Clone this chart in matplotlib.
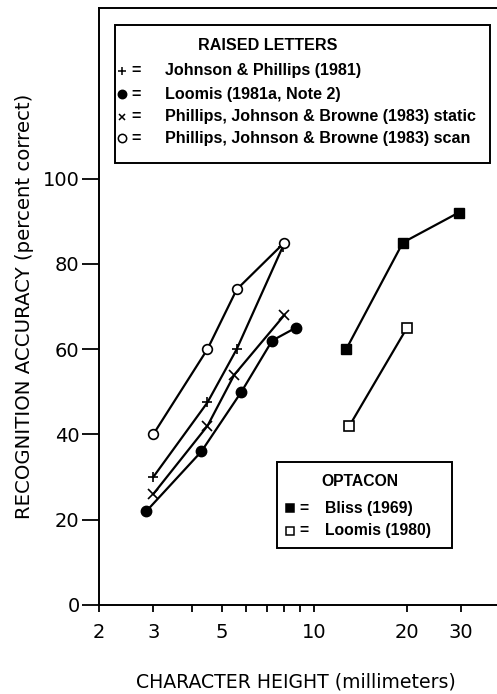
import matplotlib
matplotlib.use("Agg")
import matplotlib.pyplot as plt
from matplotlib.lines import Line2D
from matplotlib.patches import Rectangle
from matplotlib.ticker import FixedLocator, FixedFormatter, NullFormatter

plt.rcParams['font.family'] = ['Liberation Sans', 'DejaVu Sans']

# Raised letters
jp_x = [3.0, 4.5, 5.6, 7.9]
jp_y = [30, 47.5, 60, 84]
loomis81_x = [2.85, 4.3, 5.8, 7.3, 8.7]
loomis81_y = [22, 36, 50, 62, 65]
pjb_static_x = [3.0, 4.5, 5.5, 8.0]
pjb_static_y = [26, 42, 54, 68]
pjb_scan_x = [3.0, 4.5, 5.6, 8.0]
pjb_scan_y = [40, 60, 74, 85]

# Optacon
bliss_x = [12.7, 19.4, 29.4]
bliss_y = [60, 85, 92]
loomis80_x = [13.0, 20.0]
loomis80_y = [42, 65]

xtick_vals = [2, 3, 5, 10, 20, 30]
xtick_labels = ['2', '3', '5', '10', '20', '30']
xminor_vals = [4, 6, 7, 8, 9]
ytick_vals = [0, 20, 40, 60, 80, 100]
ytick_labels = ['0', '20', '40', '60', '80', '100']

W, H = 497, 694
fig = plt.figure(figsize=(W / 100, H / 100), dpi=100)
ax = fig.add_axes([99 / W, (H - 605) / H, (W - 99) / W, (605 - 8) / H])

lw = 1.6
ax.plot(jp_x, jp_y, color='black', lw=lw, marker='+', ms=6.5, mew=1.2)
ax.plot(loomis81_x, loomis81_y, color='black', lw=lw, marker='o', ms=7.5,
        mfc='black')
ax.plot(pjb_static_x, pjb_static_y, color='black', lw=lw, marker='x', ms=7,
        mew=1.2)
ax.plot(pjb_scan_x, pjb_scan_y, color='black', lw=lw, marker='o', ms=7,
        mfc='white', mew=1.2)
ax.plot(bliss_x, bliss_y, color='black', lw=lw, marker='s', ms=7.5,
        mfc='black')
ax.plot(loomis80_x, loomis80_y, color='black', lw=lw, marker='s', ms=6.5,
        mfc='white', mew=1.2)

ax.set_xscale('log')
ax.set_xlim(2, 39.2)
ax.set_ylim(0, 140)
ax.xaxis.set_major_locator(FixedLocator(xtick_vals))
ax.xaxis.set_major_formatter(FixedFormatter(xtick_labels))
ax.xaxis.set_minor_locator(FixedLocator(xminor_vals))
ax.xaxis.set_minor_formatter(NullFormatter())
ax.set_yticks(ytick_vals)
ax.set_yticklabels(ytick_labels)

ax.spines['right'].set_visible(False)
for s in ('left', 'bottom', 'top'):
    ax.spines[s].set_linewidth(1.4)
ax.tick_params(axis='y', direction='out', length=12, width=1.3, pad=2,
               labelsize=14, labelfontfamily='DejaVu Sans')
ax.tick_params(axis='x', which='both', direction='out', length=5, width=1.3,
               pad=8, labelsize=14, labelfontfamily='DejaVu Sans')

fig.text(296 / W, 1 - 682 / H, 'CHARACTER HEIGHT (millimeters)',
         ha='center', va='center', fontsize=13.6, family='DejaVu Sans')
fig.text(25 / W, 1 - 306 / H, 'RECOGNITION ACCURACY (percent correct)',
         ha='center', va='center', rotation=90, fontsize=14.2,
         family='DejaVu Sans')


def fx(px):
    return px / W


def fy(py):
    return 1 - py / H


def box(x0, y0, x1, y1):
    fig.add_artist(Rectangle((fx(x0), fy(y1)), fx(x1) - fx(x0),
                             fy(y0) - fy(y1), transform=fig.transFigure,
                             fill=True, facecolor='white', edgecolor='black',
                             lw=1.4, zorder=5))


def entry(py, marker, fill, label, sx, ex, tx, ms=6, size=11.6):
    fig.add_artist(Line2D([fx(sx)], [fy(py)], transform=fig.transFigure,
                          marker=marker, ms=ms, mfc=fill, mec='black',
                          mew=1.1, ls='none', zorder=6))
    fig.text(fx(ex), fy(py), '=', ha='center', va='center', fontsize=size,
             fontweight='bold', zorder=6)
    fig.text(fx(tx), fy(py), label, ha='left', va='center', fontsize=size,
             fontweight='bold', zorder=6)


# Raised-letters key
box(115, 25, 490, 163)
fig.text(fx(268), fy(45), 'RAISED LETTERS', ha='center', va='center',
         fontsize=11.6, fontweight='bold', zorder=6)
entry(71, '+', 'black', 'Johnson & Phillips (1981)', 122, 136, 165, ms=5.5)
entry(94, 'o', 'black', 'Loomis (1981a, Note 2)', 122, 136, 165)
entry(117, 'x', 'black', 'Phillips, Johnson & Browne (1983) static',
      122, 136, 165, ms=5)
entry(138, 'o', 'white', 'Phillips, Johnson & Browne (1983) scan',
      122, 136, 165)

# Optacon key
box(277, 462, 452, 548)
fig.text(fx(360), fy(482), 'OPTACON', ha='center', va='center',
         fontsize=11.3, fontweight='bold', zorder=6)
entry(508, 's', 'black', 'Bliss (1969)', 290, 304, 325, ms=6, size=11.3)
entry(531, 's', 'white', 'Loomis (1980)', 290, 304, 325, ms=6, size=11.3)

fig.savefig('out.png', dpi=100, facecolor='white')
